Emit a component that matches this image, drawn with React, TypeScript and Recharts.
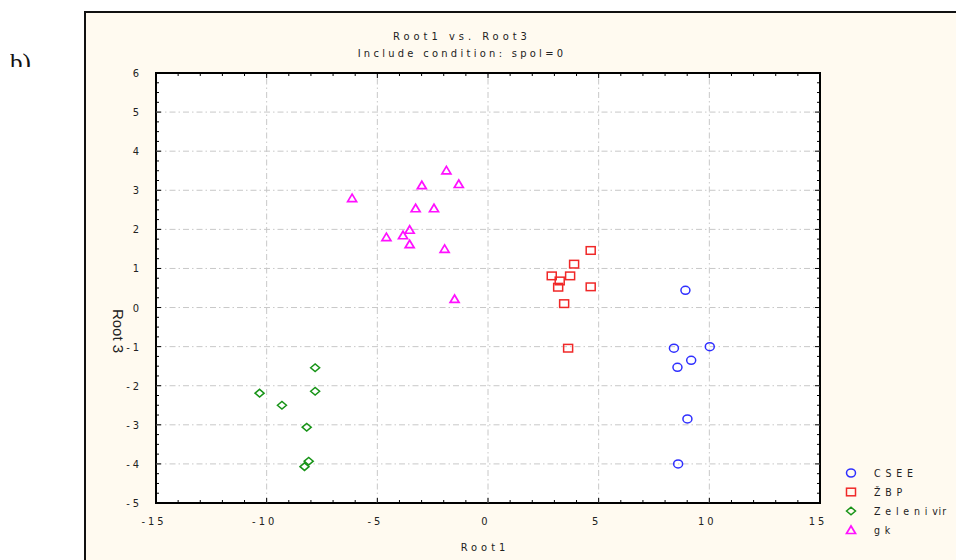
import React from 'react';
import { ScatterChart, Scatter, XAxis, YAxis, CartesianGrid, ReferenceLine, ReferenceArea } from 'recharts';

// Root 1 / Root 3 scores per group
const cseeRoot1 = [8.92, 8.4, 10.02, 9.18, 8.56, 9.01, 8.59];
const cseeRoot3 = [0.44, -1.04, -1.0, -1.35, -1.53, -2.85, -4.0];

const zbpRoot1 = [4.64, 3.89, 2.88, 3.71, 3.24, 3.17, 4.64, 3.44, 3.62];
const zbpRoot3 = [1.46, 1.11, 0.81, 0.81, 0.68, 0.52, 0.53, 0.1, -1.04];

const zvRoot1 = [-7.81, -10.32, -7.81, -9.31, -8.19, -8.1, -8.29];
const zvRoot3 = [-1.54, -2.19, -2.14, -2.5, -3.06, -3.93, -4.07];

const gkRoot1 = [-1.88, -1.32, -2.99, -6.14, -3.27, -2.44, -3.54, -4.59, -3.84, -3.54, -1.96, -1.51];
const gkRoot3 = [3.51, 3.16, 3.13, 2.8, 2.54, 2.54, 1.99, 1.8, 1.85, 1.62, 1.5, 0.22];

const xMajorTicks = [-15, -10, -5, 0, 5, 10, 15];
const yMajorTicks = [-5, -4, -3, -2, -1, 0, 1, 2, 3, 4, 5, 6];

const xTicks: number[] = [];
for (let v = -15; v <= 15; v++) xTicks.push(v);
const yTicks: number[] = [];
for (let v = -5; v <= 6.001; v += 0.25) yTicks.push(Math.round(v * 100) / 100);

const toPoints = (xs: number[], ys: number[]) => xs.map((x, i) => ({ x, y: ys[i] }));

const PLOT = { left: 156, top: 73, right: 820, bottom: 503 };
const FONT = "'Liberation Sans Narrow', 'DejaVu Sans Condensed', sans-serif";
const TXT = '#222';

const BLUE = '#2f2fff';
const RED = '#f02828';
const GREEN = '#189418';
const MAGENTA = '#ff10ff';

const Circle = ({ cx, cy }: any) => <ellipse cx={cx} cy={cy} rx={4.5} ry={4} fill="none" stroke={BLUE} strokeWidth={1.5} />;
const Square = ({ cx, cy }: any) => <rect x={cx - 4.5} y={cy - 3.8} width={9} height={7.6} fill="none" stroke={RED} strokeWidth={1.5} />;
const Diamond = ({ cx, cy }: any) => (
  <polygon points={`${cx - 4.5},${cy} ${cx},${cy - 3.8} ${cx + 4.5},${cy} ${cx},${cy + 3.8}`} fill="none" stroke={GREEN} strokeWidth={1.5} />
);
const Triangle = ({ cx, cy }: any) => (
  <polygon points={`${cx - 4.5},${cy + 3.5} ${cx},${cy - 4} ${cx + 4.5},${cy + 3.5}`} fill="none" stroke={MAGENTA} strokeWidth={1.7} />
);

const XTick = ({ x, payload }: any) => {
  const v = payload.value;
  const major = v % 5 === 0;
  const len = major ? 5 : 3;
  return (
    <g>
      <line x1={x} y1={PLOT.bottom} x2={x} y2={PLOT.bottom - len} stroke="#000" />
      <line x1={x} y1={PLOT.top} x2={x} y2={PLOT.top + len} stroke="#000" />
      {major && (
        <text x={x - 2} y={PLOT.bottom + 22} textAnchor="middle" fontFamily={FONT} fontSize={11} letterSpacing={3} fill={TXT}>
          {v}
        </text>
      )}
    </g>
  );
};

const YTick = ({ y, payload }: any) => {
  const v = payload.value;
  const major = Number.isInteger(v);
  const len = major ? 5 : 3;
  return (
    <g>
      <line x1={PLOT.left} y1={y} x2={PLOT.left + len} y2={y} stroke="#000" />
      <line x1={PLOT.right} y1={y} x2={PLOT.right - len} y2={y} stroke="#000" />
      {major && (
        <text x={142} y={y + 4} textAnchor="end" fontFamily={FONT} fontSize={11} letterSpacing={3} fill={TXT}>
          {v}
        </text>
      )}
    </g>
  );
};

const legendItems = [
  { name: 'C S E E', Icon: Circle },
  { name: 'Ž B P', Icon: Square },
  { name: 'Z e l e n i vir', Icon: Diamond },
  { name: 'g k', Icon: Triangle },
];

const App: React.FC = () => {
  return (
    <div style={{ position: 'absolute', left: 0, top: 0, width: 956, height: 560, overflow: 'hidden', background: '#fff' }}>
      <div style={{ position: 'absolute', left: 10, top: 49, height: 18, overflow: 'hidden', fontFamily: "'Liberation Serif', serif", fontSize: 25, lineHeight: '28px', color: '#111' }}>
        b)
      </div>
      <div
        style={{
          position: 'absolute',
          left: 84,
          top: 11,
          width: 900,
          height: 600,
          border: '2px solid #111',
          background: '#fffaf0',
          boxSizing: 'border-box',
        }}
      />
      <div style={{ position: 'absolute', left: 0, top: 30, width: 924, textAlign: 'center', fontFamily: FONT, fontSize: 11, letterSpacing: 4, color: TXT }}>
        Root1 vs. Root3
      </div>
      <div style={{ position: 'absolute', left: 0, top: 47, width: 924, textAlign: 'center', fontFamily: FONT, fontSize: 11, letterSpacing: 3.3, color: TXT }}>
        Include condition: spol=0
      </div>
      <div style={{ position: 'absolute', left: 0, top: 541, width: 970, textAlign: 'center', fontFamily: FONT, fontSize: 11, letterSpacing: 4, color: TXT }}>
        Root1
      </div>
      <div
        style={{
          position: 'absolute',
          left: 118,
          top: 331,
          transform: 'translate(-50%, -50%) rotate(90deg)',
          fontFamily: "'Liberation Sans', Arial, sans-serif",
          fontSize: 15,
          color: TXT,
          whiteSpace: 'nowrap',
        }}
      >
        Root 3
      </div>
      <div style={{ position: 'absolute', left: 843, top: 463, whiteSpace: 'nowrap' }}>
        {legendItems.map(({ name, Icon }) => (
          <div key={name} style={{ display: 'flex', alignItems: 'center', height: 19 }}>
            <svg width={18} height={12}>
              <Icon cx={8} cy={6} />
            </svg>
            <span style={{ marginLeft: 13, fontFamily: FONT, fontSize: 10.5, letterSpacing: 0.9, color: TXT }}>{name}</span>
          </div>
        ))}
      </div>
      <div style={{ position: 'absolute', left: 0, top: 0 }}>
        <ScatterChart width={956} height={560} margin={{ top: PLOT.top, right: 956 - PLOT.right, bottom: 560 - PLOT.bottom - 30, left: PLOT.left - 60 }}>
          <CartesianGrid fill="#ffffff" horizontal={false} vertical={false} />
          <XAxis type="number" dataKey="x" domain={[-15, 15]} ticks={xTicks} interval={0} axisLine={false} tickLine={false} tick={<XTick />} height={30} />
          <YAxis type="number" dataKey="y" domain={[-5, 6]} ticks={yTicks} interval={0} axisLine={false} tickLine={false} tick={<YTick />} width={60} />
          {xMajorTicks.slice(1, -1).map((v) => (
            <ReferenceLine key={'x' + v} x={v} stroke="#c8c8c8" strokeDasharray="6 3 1.5 3" />
          ))}
          {yMajorTicks.slice(1, -1).map((v) => (
            <ReferenceLine key={'y' + v} y={v} stroke="#c8c8c8" strokeDasharray="6 3 1.5 3" />
          ))}
          <ReferenceArea x1={-15} x2={15} y1={-5} y2={6} fill="none" fillOpacity={0} stroke="#000" strokeWidth={2} />
          <Scatter name="CSEE" data={toPoints(cseeRoot1, cseeRoot3)} shape={Circle} isAnimationActive={false} />
          <Scatter name="ŽBP" data={toPoints(zbpRoot1, zbpRoot3)} shape={Square} isAnimationActive={false} />
          <Scatter name="Zelenivir" data={toPoints(zvRoot1, zvRoot3)} shape={Diamond} isAnimationActive={false} />
          <Scatter name="gk" data={toPoints(gkRoot1, gkRoot3)} shape={Triangle} isAnimationActive={false} />
        </ScatterChart>
      </div>
    </div>
  );
};

export default App;
